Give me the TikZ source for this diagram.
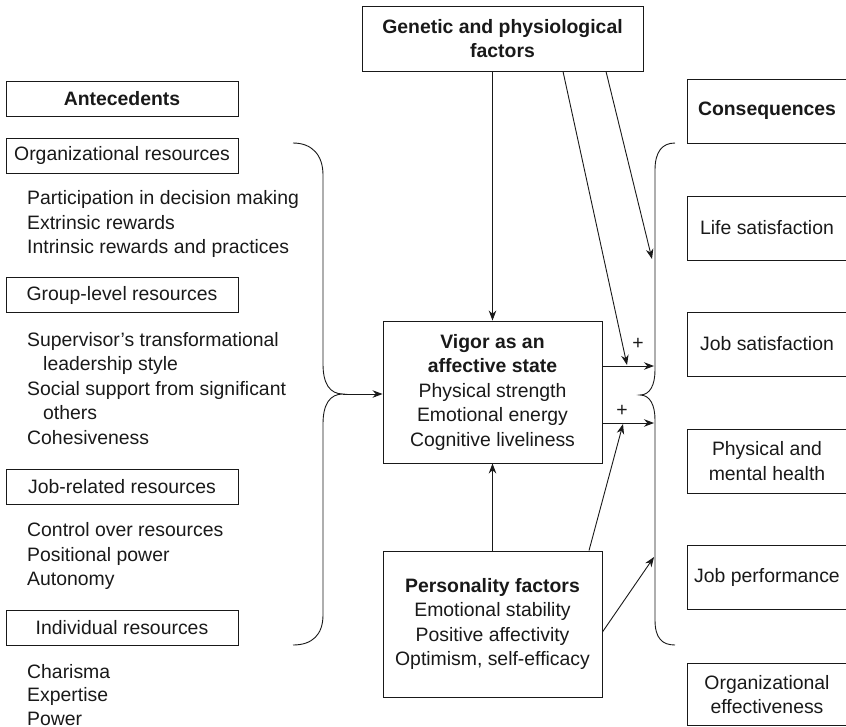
\documentclass[tikz,border=0pt]{standalone}
\usepackage{fontspec}
\setmainfont{Liberation Sans}
\usetikzlibrary{arrows.meta,calc}
\begin{document}
\begin{tikzpicture}[x=1pt,y=-1pt,
  every node/.style={font=\fontsize{19.4}{24.5}\selectfont, inner sep=0pt, text=black!90},
  head/.style={font=\fontsize{19.4}{24.5}\selectfont\bfseries},
  box/.style={draw=black!90, line width=0.9pt, align=center},
  lbox/.style={box, minimum width=232pt, minimum height=35pt},
  cbox/.style={box, minimum width=160pt, minimum height=64pt},
  arr/.style={draw=black!90, -{Stealth[length=10pt,width=7.5pt]}, line width=0.9pt},
  ln/.style={draw=black!90, line width=0.9pt},
  item/.style={align=left, anchor=west}]
\useasboundingbox (0,0) rectangle (846,726);

% top
\node[box, head, minimum width=281pt, minimum height=65pt] (gen) at (502.5,38.5) {Genetic and physiological\\factors};

% left column
\node[lbox, head] (ante) at (122,98.5) {Antecedents};
\node[lbox] (org) at (122,155.5) {Organizational resources};
\node[item] (orgl) at (27,224) {Participation in decision making\\Extrinsic rewards\\Intrinsic rewards and practices};
\node[lbox] (grp) at (122,295) {Group-level resources};
\node[item] (grpl) at (27,388.5) {Supervisor's transformational\\\hspace*{16pt}leadership style\\Social support from significant\\\hspace*{16pt}others\\Cohesiveness};
\node[lbox] (job) at (122,487) {Job-related resources};
\node[item] (jobl) at (27,556) {Control over resources\\Positional power\\Autonomy};
\node[lbox] (ind) at (122,627.5) {Individual resources};
\node[item, font=\fontsize{19.4}{23.5}\selectfont] (indl) at (27,695) {Charisma\\Expertise\\Power};

% center
\node[box, minimum width=219pt, minimum height=142pt] (vig) at (492.5,392) {\textbf{Vigor as an}\\\textbf{affective state}\\Physical strength\\Emotional energy\\Cognitive liveliness};
\node[box, minimum width=219pt, minimum height=146pt] (pers) at (492.5,624) {\textbf{Personality factors}\\Emotional stability\\Positive affectivity\\Optimism, self-efficacy};

% right column
\node[cbox, head] (cons) at (767,111) {Consequences};
\node[cbox] (life) at (767,228) {Life satisfaction};
\node[cbox] (jsat) at (767,344) {Job satisfaction};
\node[cbox] (health) at (767,461) {Physical and\\mental health};
\node[cbox] (perf) at (767,577.5) {Job performance};
\node[cbox, minimum height=62pt] (orgeff) at (767,694.5) {Organizational\\effectiveness};

% braces
\coordinate (lc) at (343,394);
\draw[ln] (293,143) .. controls (312,143) and (323,155) .. (323,175) -- (323,364)
  .. controls (323,384) and (330,394) .. (lc)
  .. controls (330,394) and (323,404) .. (323,424) -- (323,615)
  .. controls (323,635) and (312,645) .. (293,645);
\coordinate (rc) at (640,395);
\draw[ln] (675,143) .. controls (662,143) and (655,152) .. (655,170) -- (655,370)
  .. controls (655,385) and (650,395) .. (rc)
  .. controls (650,395) and (655,405) .. (655,420) -- (655,620)
  .. controls (655,638) and (662,645) .. (675,645);

% connectors
\coordinate (rb1) at (654,366);
\coordinate (rb2) at (654,423);
\coordinate (t1) at (627,365);
\coordinate (t2) at (652,259);
\coordinate (t3) at (623,424);
\coordinate (t4) at (654,557);
\draw[arr] (lc) -- (lc -| vig.west);
\draw[arr] (gen.south -| vig.north) -- (vig.north);
\draw[arr] ($(gen.south)+(60.5,0)$) -- (t1);
\draw[arr] ($(gen.south)+(103.5,0)$) -- (t2);
\draw[arr] ([yshift=26pt]vig.east) -- (rb1);
\draw[arr] ([yshift=-31pt]vig.east) -- (rb2);
\draw[arr] (pers.north) -- (vig.south);
\draw[arr] ($(pers.north)+(96.5,0)$) -- (t3);
\draw[arr] ([yshift=-8pt]pers.east) -- (t4);
\node (plus1) at (638,344) {+};
\node (plus2) at (622,411) {+};
\end{tikzpicture}
\end{document}
